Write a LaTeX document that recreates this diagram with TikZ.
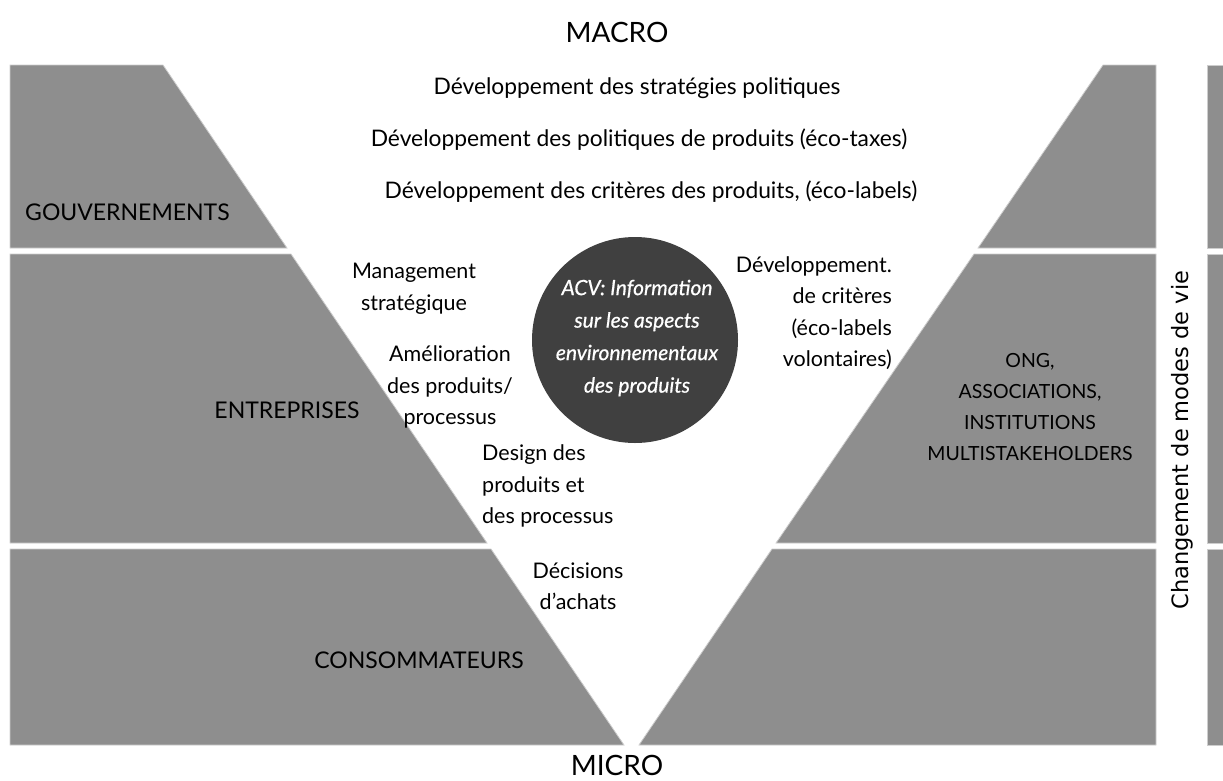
\documentclass[tikz,border=0pt]{standalone}
\usepackage{fontspec}
\setmainfont{Lato}
\newfontfamily\vfont{DejaVu Sans}
\newfontfamily\circfont[FakeBold=0.7]{Lato}
\definecolor{bandgray}{RGB}{142,142,142}
\definecolor{edgegray}{RGB}{205,205,205}
\definecolor{circgray}{RGB}{64,64,64}
\begin{document}
\begin{tikzpicture}[x=1pt,y=-1pt,
  band/.style={fill=bandgray,draw=edgegray,line width=0.8pt},
  toptxt/.style={inner sep=0pt,align=center,font=\fontsize{22.8}{31.5}\selectfont},
  txt/.style={inner sep=0pt,align=center,font=\fontsize{21.5}{31.5}\selectfont},
  caplbl/.style={inner sep=0pt,align=center,font=\fontsize{23}{31}\selectfont},
  onglbl/.style={inner sep=0pt,align=center,font=\fontsize{19.5}{31.3}\selectfont},
  big/.style={inner sep=0pt,font=\fontsize{28}{30}\selectfont}]
\useasboundingbox (0,0) rectangle (1223,780);
% left bands
\path[band] (10,65) -- (163,65) -- (287,248) -- (10,248) -- cycle;
\path[band] (10,254) -- (291,254) -- (487,543) -- (10,543) -- cycle;
\path[band] (10,549) -- (491,549) -- (624,745) -- (10,745) -- cycle;
% right bands
\path[band] (1103,65) -- (1156,65) -- (1156,248) -- (978,248) -- cycle;
\path[band] (974,254) -- (1156,254) -- (1156,543) -- (776,543) -- cycle;
\path[band] (772,549) -- (1156,549) -- (1156,745) -- (639,745) -- cycle;
% far right strip
\path[band] (1207,65) rectangle (1225,248);
\path[band] (1207,254) rectangle (1225,543);
\path[band] (1207,549) rectangle (1225,745);
% circle
\node[circle,fill=circgray,minimum size=206pt,inner sep=0pt] (acv) at (635,340) {};
\node[inner sep=0pt,align=center,text=white,font=\circfont\fontsize{21}{32.5}\selectfont\itshape] (acvtxt) at (637,338)
  {ACV: Information\\sur les aspects\\environnementaux\\des produits};
% titles
\node[big] (macro) at (617,32) {MACRO};
\node[big] (micro) at (617,765) {MICRO};
% top texts
\node[toptxt] (t1) at (637,88) {Développement des stratégies politiques};
\node[toptxt] (t2) at (639,140) {Développement des politiques de produits (éco-taxes)};
\node[toptxt] (t3) at (651,192) {Développement des critères des produits, (éco-labels)};
% left labels
\node[caplbl,anchor=west] (gouv) at (25,212) {GOUVERNEMENTS};
\node[caplbl] (entr) at (287,410) {ENTREPRISES};
\node[caplbl] (cons) at (419,660) {CONSOMMATEURS};
% diagonal texts
\node[txt] (mgmt) at (414,289) {Management\\stratégique};
\node[txt] (amel) at (450,387) {Amélioration\\des produits/\\processus};
\node[txt,align=left,anchor=west] (design) at (482,486) {Design des\\produits et\\des processus};
\node[txt] (decis) at (578,586) {Décisions\\d’achats};
\node[txt,align=right,anchor=east] (devc) at (892,313) {Développement.\\de critères\\(éco-labels\\volontaires)};
\node[onglbl] (ong) at (1030,407) {ONG,\\ASSOCIATIONS,\\INSTITUTIONS\\MULTISTAKEHOLDERS};
% vertical label
\node[inner sep=0pt,rotate=90,font=\vfont\fontsize{22.5}{24}\selectfont] (chg) at (1182,440) {Changement de modes de vie};
\end{tikzpicture}
\end{document}
